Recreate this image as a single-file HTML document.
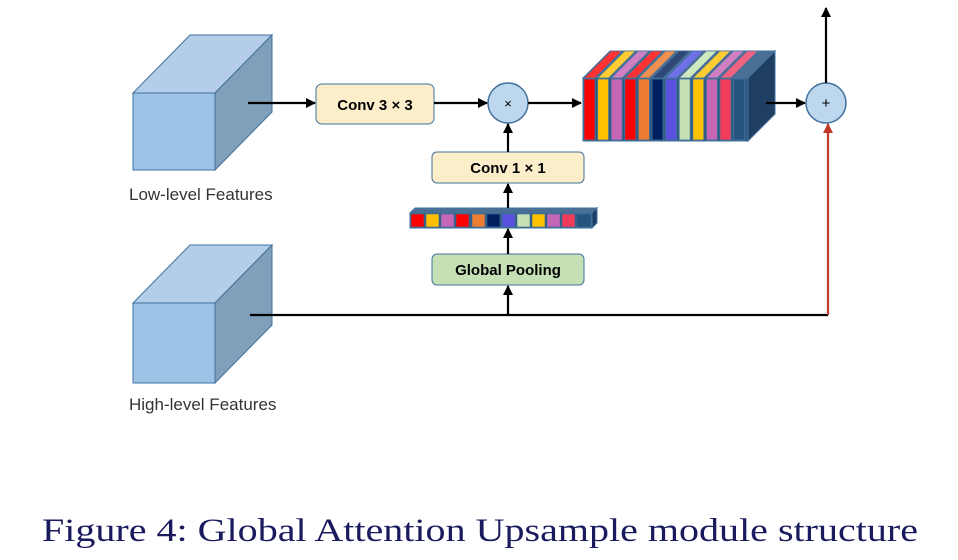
<!DOCTYPE html>
<html><head><meta charset="utf-8"><style>body{margin:0;background:#fff}svg{display:block}</style></head><body>
<svg width="958" height="560" viewBox="0 0 958 560" xmlns="http://www.w3.org/2000/svg">
<defs>
<marker id="a" markerWidth="10" markerHeight="10" refX="9" refY="5" orient="auto" markerUnits="userSpaceOnUse"><path d="M0,0 L10,5 L0,10 z" fill="#000"/></marker>
<marker id="r" markerWidth="10" markerHeight="10" refX="9" refY="5" orient="auto" markerUnits="userSpaceOnUse"><path d="M0,0 L10,5 L0,10 z" fill="#c0392b"/></marker>
</defs>
<!-- low-level cube -->
<g stroke="#41719c" stroke-width="1">
<polygon points="133,93 190,35 272,35 215,93" fill="#b4cde8"/>
<polygon points="215,93 272,35 272,112 215,170" fill="#7f9fba"/>
<rect x="133" y="93" width="82" height="77" fill="#9dc3e6"/>
<polygon points="133,303 190,245 272,245 215,303" fill="#b4cde8"/>
<polygon points="215,303 272,245 272,325 215,383" fill="#7f9fba"/>
<rect x="133" y="303" width="82" height="80" fill="#9dc3e6"/>
</g>
<text x="129" y="200" font-family="Liberation Sans, sans-serif" font-size="17" fill="#333">Low-level Features</text>
<text x="129" y="410" font-family="Liberation Sans, sans-serif" font-size="17" fill="#333">High-level Features</text>
<!-- boxes -->
<g font-family="Liberation Sans, sans-serif" font-size="15" font-weight="bold" text-anchor="middle" fill="#000">
<rect x="316" y="84" width="118" height="40" rx="6" fill="#fdeecb" stroke="#41719c"/>
<text x="375" y="110">Conv 3 × 3</text>
<rect x="432" y="152" width="152" height="31" rx="5" fill="#fdeecb" stroke="#41719c"/>
<text x="508" y="173">Conv 1 × 1</text>
<rect x="432" y="254" width="152" height="31" rx="5" fill="#c5e0b4" stroke="#41719c"/>
<text x="508" y="275">Global Pooling</text>
</g>
<!-- circles -->
<circle cx="508" cy="103" r="20" fill="#bdd7ee" stroke="#41719c" stroke-width="1.5"/>
<text x="508" y="108" text-anchor="middle" font-family="Liberation Sans, sans-serif" font-size="13">×</text>
<circle cx="826" cy="103" r="20" fill="#bdd7ee" stroke="#41719c" stroke-width="1.5"/>
<text x="826" y="108" text-anchor="middle" font-family="Liberation Sans, sans-serif" font-size="15">+</text>
<!-- big block -->
<polygon points="583,78 610,51 775,51 748,78" fill="#4a6f94" stroke="#41719c"/>
<polygon points="748,78 775,51 775,114 748,141" fill="#1f3f62" stroke="#41719c"/>
<rect x="583" y="78" width="165" height="63" fill="#2e5a82" stroke="#41719c"/>
<g stroke="#41719c" stroke-width="0.8">
<rect x="584" y="79" width="11" height="61" fill="#ff0000"/><polygon points="584,78 611,51 622,51 595,78" fill="#ff3333"/>
<rect x="597.6" y="79" width="11" height="61" fill="#ffc000"/><polygon points="597.6,78 624.6,51 635.6,51 608.6,78" fill="#ffcc33"/>
<rect x="611.2" y="79" width="11" height="61" fill="#c565b5"/><polygon points="611.2,78 638.2,51 649.2,51 622.2,78" fill="#d080c0"/>
<rect x="624.8" y="79" width="11" height="61" fill="#ff0000"/><polygon points="624.8,78 651.8,51 662.8,51 635.8,78" fill="#ff3333"/>
<rect x="638.4" y="79" width="11" height="61" fill="#ed7d31"/><polygon points="638.4,78 665.4,51 676.4,51 649.4,78" fill="#f09050"/>
<rect x="652" y="79" width="11" height="61" fill="#002060"/><polygon points="652,78 679,51 690,51 663,78" fill="#304878"/>
<rect x="665.6" y="79" width="11" height="61" fill="#5b50e0"/><polygon points="665.6,78 692.6,51 703.6,51 676.6,78" fill="#7070e8"/>
<rect x="679.2" y="79" width="11" height="61" fill="#c5e0b4"/><polygon points="679.2,78 706.2,51 717.2,51 690.2,78" fill="#d0e8c0"/>
<rect x="692.8" y="79" width="11" height="61" fill="#ffc000"/><polygon points="692.8,78 719.8,51 730.8,51 703.8,78" fill="#ffcc33"/>
<rect x="706.4" y="79" width="11" height="61" fill="#c565b5"/><polygon points="706.4,78 733.4,51 744.4,51 717.4,78" fill="#d080c0"/>
<rect x="720" y="79" width="11" height="61" fill="#f03c5a"/><polygon points="720,78 747,51 758,51 731,78" fill="#f06080"/>
<rect x="733.6" y="79" width="11" height="61" fill="#255480"/>
</g>
<!-- small bar -->
<polygon points="410,213 415,208 597,208 592,213" fill="#4a6f94" stroke="#41719c"/>
<polygon points="592,213 597,208 597,223 592,228" fill="#1f3f62" stroke="#41719c"/>
<rect x="410" y="213" width="182" height="15" fill="#2e5a82" stroke="#41719c"/>
<g stroke="#41719c" stroke-width="0.6">
<rect x="411" y="214" width="13" height="13" fill="#ff0000"/>
<rect x="426" y="214" width="13" height="13" fill="#ffc000"/>
<rect x="441" y="214" width="13" height="13" fill="#c565b5"/>
<rect x="456" y="214" width="13" height="13" fill="#ff0000"/>
<rect x="472" y="214" width="13" height="13" fill="#ed7d31"/>
<rect x="487" y="214" width="13" height="13" fill="#002060"/>
<rect x="502" y="214" width="13" height="13" fill="#5b50e0"/>
<rect x="517" y="214" width="13" height="13" fill="#c5e0b4"/>
<rect x="532" y="214" width="13" height="13" fill="#ffc000"/>
<rect x="547" y="214" width="13" height="13" fill="#c565b5"/>
<rect x="562" y="214" width="13" height="13" fill="#f03c5a"/>
<rect x="577" y="214" width="14" height="13" fill="#255480"/>
</g>
<!-- arrows -->
<g stroke="#000" stroke-width="2.2" fill="none">
<line x1="248" y1="103" x2="315" y2="103" marker-end="url(#a)"/>
<line x1="434" y1="103" x2="487" y2="103" marker-end="url(#a)"/>
<line x1="528" y1="103" x2="581" y2="103" marker-end="url(#a)"/>
<line x1="766" y1="103" x2="805" y2="103" marker-end="url(#a)"/>
<line x1="826" y1="83" x2="826" y2="8" marker-end="url(#a)"/>
<line x1="508" y1="152" x2="508" y2="124" marker-end="url(#a)"/>
<line x1="508" y1="208" x2="508" y2="184" marker-end="url(#a)"/>
<line x1="508" y1="254" x2="508" y2="229" marker-end="url(#a)"/>
<line x1="508" y1="315" x2="508" y2="286" marker-end="url(#a)"/>
<polyline points="250,315 828,315"/>
</g>
<polyline points="828,315 828,124" stroke="#c0392b" stroke-width="2.2" fill="none" marker-end="url(#r)"/>
<text x="42" y="541" font-family="Liberation Serif, serif" font-size="33" fill="#1a1a5e" textLength="876" lengthAdjust="spacingAndGlyphs">Figure 4: Global Attention Upsample module structure</text>
</svg>
</body></html>
